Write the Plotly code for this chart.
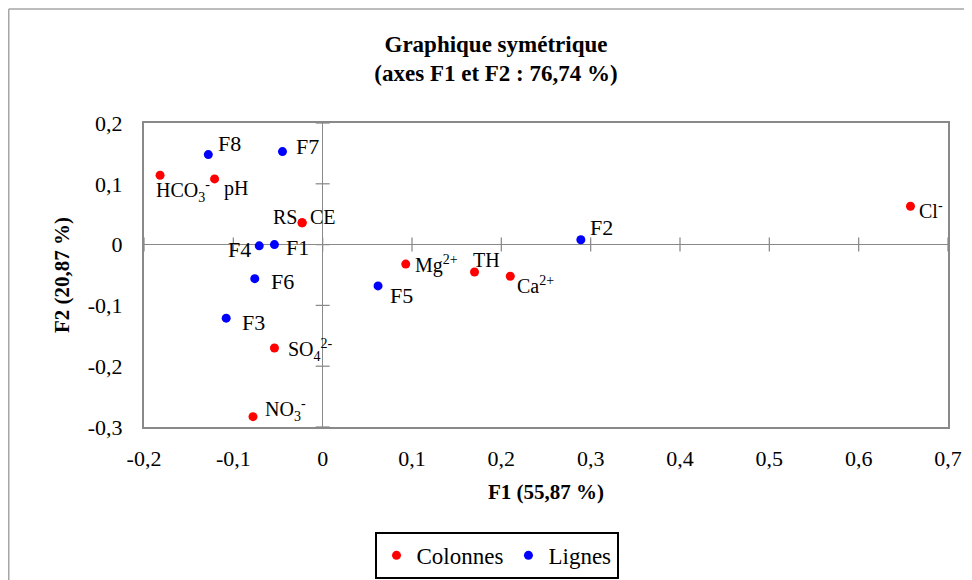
import plotly.graph_objects as go

# Colonnes (variables)
col_names = ["HCO<sub>3</sub><sup>-</sup>", "pH", "RS", "CE", "Mg<sup>2+</sup>", "TH",
             "Ca<sup>2+</sup>", "Cl<sup>-</sup>", "SO<sub>4</sub><sup>2-</sup>", "NO<sub>3</sub><sup>-</sup>"]
col_x = [-0.182, -0.121, -0.023, -0.023, 0.093, 0.170, 0.210, 0.658, -0.054, -0.078]
col_y = [0.114, 0.108, 0.036, 0.036, -0.032, -0.045, -0.052, 0.063, -0.170, -0.283]

# Lignes (observations)
lig_names = ["F1", "F2", "F3", "F4", "F5", "F6", "F7", "F8"]
lig_x = [-0.054, 0.289, -0.108, -0.071, 0.062, -0.076, -0.045, -0.128]
lig_y = [0.000, 0.008, -0.121, -0.002, -0.068, -0.056, 0.153, 0.148]

x_ticks = [-0.2, -0.1, 0, 0.1, 0.2, 0.3, 0.4, 0.5, 0.6, 0.7]
y_ticks = [-0.3, -0.2, -0.1, 0, 0.1, 0.2]

# label placement: (xanchor, xshift, yshift)
col_label_pos = [("left", -6, -16), ("left", 7, -10), ("right", -3, 6), ("left", 6, 6),
                 ("left", 7, 0), ("left", -4, 12), ("left", 5, -9), ("left", 7, -4),
                 ("left", 12, -2), ("left", 10, 7)]
lig_label_pos = [("left", 10, -3), ("left", 7, 12), ("left", 14, -4), ("right", -6, -4),
                 ("left", 10, -10), ("left", 14, -3), ("left", 12, 5), ("left", 8, 11)]

FONT = "Liberation Serif, Times New Roman, serif"
AXIS_GREY = "#898989"

# page adds an 8px body margin, so the figure is shifted 8px right/down
W, H = 956, 572
ML, MR, MT, MB = 136, 16, 115, 153
PW, PH = W - ML - MR, H - MT - MB

fig = go.Figure()
fig.add_trace(go.Scatter(x=col_x, y=col_y, mode="markers", name="Colonnes",
                         marker=dict(color="#ff0000", size=9)))
fig.add_trace(go.Scatter(x=lig_x, y=lig_y, mode="markers", name="Lignes",
                         marker=dict(color="#0000ff", size=9)))

annotations = []
for names, xs, ys, pos, size in [(col_names, col_x, col_y, col_label_pos, 20),
                                 (lig_names, lig_x, lig_y, lig_label_pos, 22)]:
    for name, xv, yv, (anchor, dx, dy) in zip(names, xs, ys, pos):
        annotations.append(dict(x=xv, y=yv, xref="x", yref="y", text=name, showarrow=False,
                                xanchor=anchor, yanchor="middle", xshift=dx, yshift=dy,
                                font=dict(family=FONT, size=size, color="black")))

shapes = []
# cross tick marks on the zero axes
for v in x_ticks:
    shapes.append(dict(type="line", xref="x", x0=v, x1=v, yref="y", ysizemode="pixel",
                       yanchor=0, y0=-7, y1=7, line=dict(color=AXIS_GREY, width=1.25)))
for v in y_ticks:
    shapes.append(dict(type="line", yref="y", y0=v, y1=v, xref="x", xsizemode="pixel",
                       xanchor=0, x0=-7, x1=7, line=dict(color=AXIS_GREY, width=1.25)))
# outer chart border: only left and top edges are visible
bx0, by1 = (0.75 - ML) / PW, (PH + MT - 1) / PH
shapes.append(dict(type="line", xref="paper", yref="paper", x0=bx0, x1=bx0,
                   y0=(PH + MT - H) / PH, y1=by1, line=dict(color="#a6a6a6", width=1.5)))
shapes.append(dict(type="line", xref="paper", yref="paper", x0=bx0, x1=(W - ML) / PW,
                   y0=by1, y1=by1, line=dict(color="#a6a6a6", width=1.5)))

fig.update_layout(
    width=W, height=H,
    margin=dict(l=ML, r=MR, t=MT, b=MB, autoexpand=False),
    paper_bgcolor="white", plot_bgcolor="white",
    font=dict(family=FONT, size=22, color="black"),
    title=dict(text="<b>Graphique symétrique<br>(axes F1 et F2 : 76,74 %)</b>",
               x=(488 / W), xanchor="center", y=1 - 43.5 / H, yanchor="middle",
               font=dict(family=FONT, size=23, color="black")),
    xaxis=dict(range=[-0.2, 0.7], tickvals=x_ticks,
               ticktext=[f"{v:.1f}".replace(".", ",") if v != 0 else "0" for v in x_ticks],
               showgrid=False, zeroline=True, zerolinecolor=AXIS_GREY, zerolinewidth=1.25,
               showline=True, linecolor=AXIS_GREY, linewidth=2, mirror=True,
               ticks="", ticklabelstandoff=11, tickfont=dict(size=22),
               title=dict(text="<b>F1 (55,87 %)</b>", standoff=14,
                          font=dict(family=FONT, size=21))),
    yaxis=dict(range=[-0.3, 0.2], tickvals=y_ticks,
               ticktext=[f"{v:.1f}".replace(".", ",") if v != 0 else "0" for v in y_ticks],
               showgrid=False, zeroline=True, zerolinecolor=AXIS_GREY, zerolinewidth=1.25,
               showline=True, linecolor=AXIS_GREY, linewidth=2, mirror=True,
               ticks="", ticklabelstandoff=15, tickfont=dict(size=22),
               title=dict(text="<b>F2 (20,87 %)</b>", standoff=12,
                          font=dict(family=FONT, size=21))),
    legend=dict(orientation="h", x=(488.5 - ML) / PW, xanchor="center",
                y=-0.345, yanchor="top",
                bordercolor="black", borderwidth=2, bgcolor="white",
                font=dict(family=FONT, size=23)),
    shapes=shapes,
    annotations=annotations,
)

fig.write_html("out.html")
